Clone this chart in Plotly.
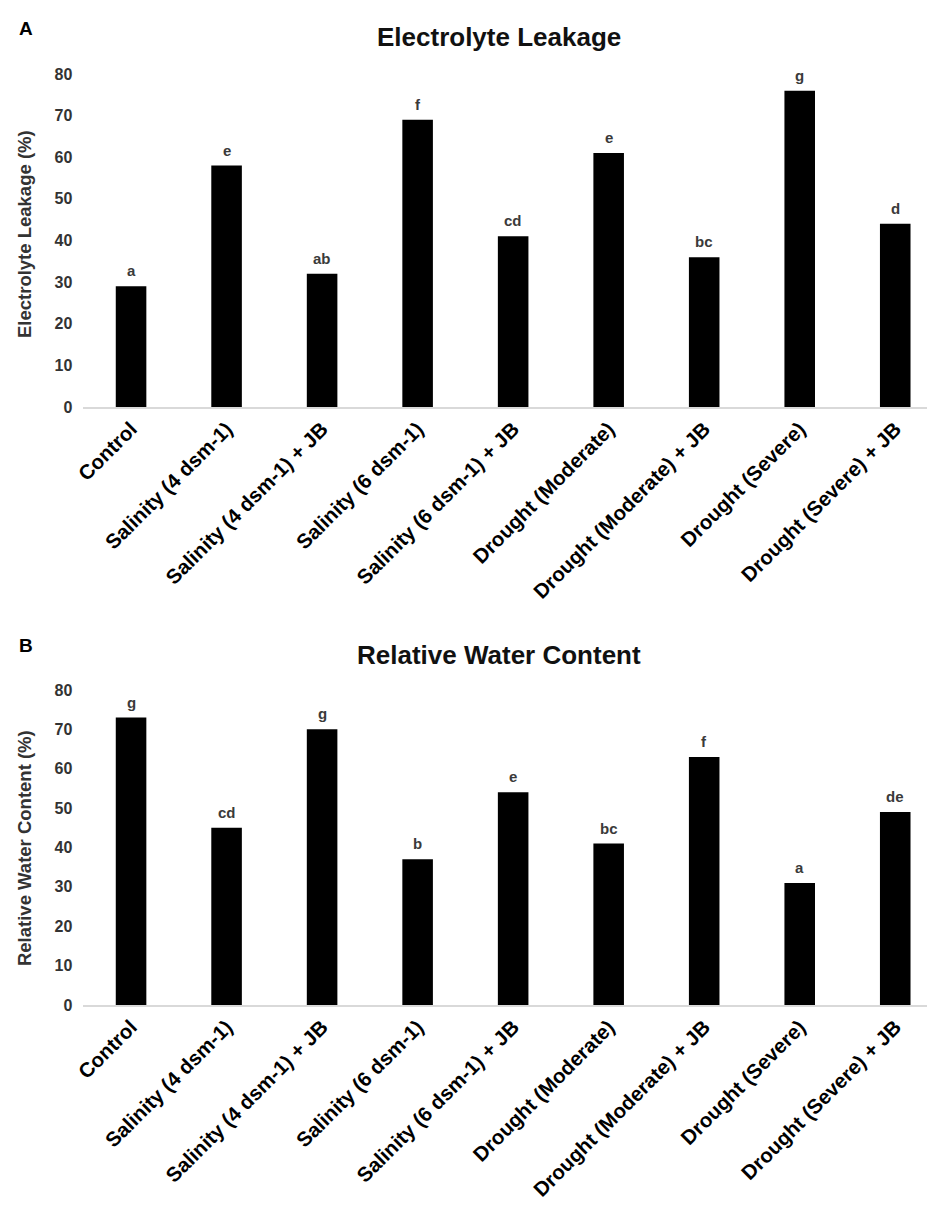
import plotly.graph_objects as go

# treatments on the x axis (same for both panels)
categories = ['Control', 'Salinity (4 dsm-1)', 'Salinity (4 dsm-1) + JB',
              'Salinity (6 dsm-1)', 'Salinity (6 dsm-1) + JB',
              'Drought (Moderate)', 'Drought (Moderate) + JB',
              'Drought (Severe)', 'Drought (Severe) + JB']

# panel A - electrolyte leakage (%)
leakage = [29, 58, 32, 69, 41, 61, 36, 76, 44]
leakage_letters = ['a', 'e', 'ab', 'f', 'cd', 'e', 'bc', 'g', 'd']

# panel B - relative water content (%)
rwc = [73, 45, 70, 37, 54, 41, 63, 31, 49]
rwc_letters = ['g', 'cd', 'g', 'b', 'e', 'bc', 'f', 'a', 'de']

y_ticks = [0, 10, 20, 30, 40, 50, 60, 70, 80]

W, H = 935, 1214
FONT = 'Liberation Sans, Arial, sans-serif'

# the page shows the figure slightly shifted/scaled, correct for it
OFF, SC = 17, 0.986


def px(x):
    # screen column -> paper fraction
    return (x - OFF) / SC / W


def py(y):
    # screen row -> paper fraction
    return 1 - (y - OFF + 1) / SC / H


fig = go.Figure()
fig.add_trace(go.Bar(x=categories, y=leakage, marker_color='black',
                     marker_line_width=0, xaxis='x', yaxis='y'))
fig.add_trace(go.Bar(x=categories, y=rwc, marker_color='black',
                     marker_line_width=0, xaxis='x2', yaxis='y2'))

annotations = []
# significance letters above the bars
for xa, ya, vals, letters in [('x', 'y', leakage, leakage_letters),
                              ('x2', 'y2', rwc, rwc_letters)]:
    for c, v, l in zip(categories, vals, letters):
        annotations.append(dict(x=c, y=v, xref=xa, yref=ya, text='<b>%s</b>' % l,
                                showarrow=False, yanchor='bottom', yshift=5,
                                font=dict(family=FONT, size=15, color='#3a3a3a')))

# panel letters, kept just inside the figure edge
annotations.append(dict(x=0, y=1, xref='paper', yref='paper', text='<b>A</b>',
                        showarrow=False, xanchor='left', yanchor='top',
                        font=dict(family=FONT, size=19, color='black')))
annotations.append(dict(x=0, y=py(646), xref='paper', yref='paper', text='<b>B</b>',
                        showarrow=False, xanchor='left', yanchor='middle',
                        font=dict(family=FONT, size=19, color='black')))

# titles and y titles
for title, ytitle, ttop, mid in [
        ('Electrolyte Leakage', 'Electrolyte Leakage (%)', 37, 234),
        ('Relative Water Content', 'Relative Water Content (%)', 655, 848)]:
    annotations.append(dict(x=px(497), y=py(ttop), xref='paper', yref='paper',
                            text='<b>%s</b>' % title, showarrow=False,
                            xanchor='center', yanchor='middle',
                            font=dict(family=FONT, size=26, color='#111')))
    annotations.append(dict(x=px(25), y=py(mid), xref='paper', yref='paper',
                            text='<b>%s</b>' % ytitle, showarrow=False,
                            textangle=-90, xanchor='center', yanchor='middle',
                            font=dict(family=FONT, size=18.5, color='#333')))

xaxis_style = dict(showgrid=False, showline=True, linecolor='#d9d9d9', linewidth=2,
                   ticks='', tickangle=-45, domain=[px(83), 1.0],
                   tickfont=dict(family=FONT, size=20.5, color='black', weight='bold'))
yaxis_style = dict(showgrid=False, showline=False, zeroline=False, range=[0, 80],
                   tickvals=y_ticks, ticks='', ticklabelstandoff=10,
                   tickfont=dict(family=FONT, size=16, color='#333', weight='bold'))

fig.update_layout(
    width=W, height=H,
    margin=dict(l=0, r=0, t=0, b=0),
    paper_bgcolor='white', plot_bgcolor='white',
    showlegend=False, bargap=0.68,
    xaxis=dict(xaxis_style, anchor='y'),
    yaxis=dict(yaxis_style, anchor='x', domain=[py(407), py(74)]),
    xaxis2=dict(xaxis_style, anchor='y2'),
    yaxis2=dict(yaxis_style, anchor='x2', domain=[py(1005), py(690)]),
    annotations=annotations,
)

fig.write_html("out.html")
